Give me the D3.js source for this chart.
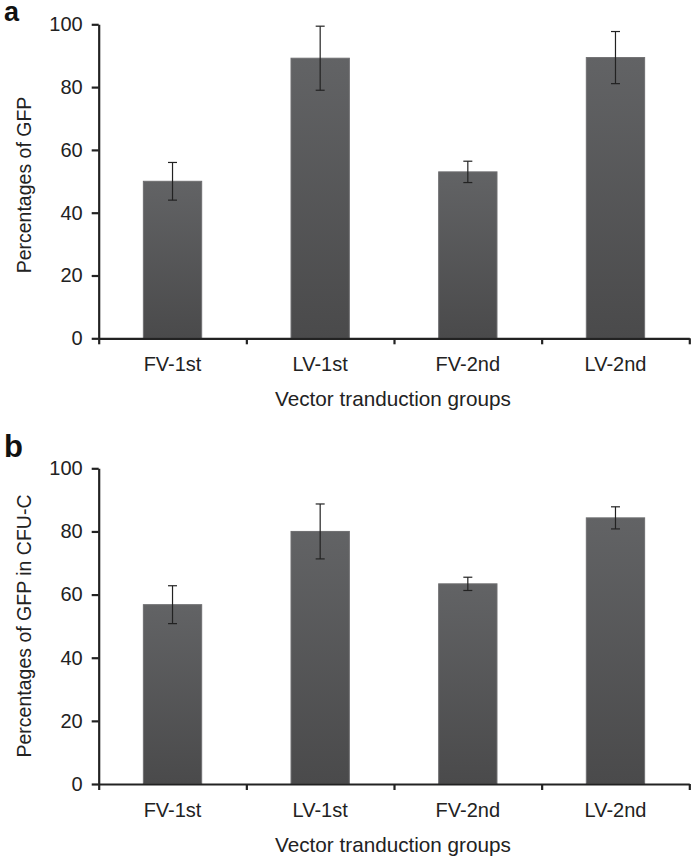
<!DOCTYPE html>
<html>
<head>
<meta charset="utf-8">
<script src="https://cdn.jsdelivr.net/npm/d3@7"></script>
<style>
  body { margin: 0; background: #fff; }
  svg { display: block; font-family: "Liberation Sans", Arial, Helvetica, sans-serif; }
</style>
</head>
<body>
<svg id="chart" width="700" height="863"></svg>
<script>
// groups and values
const groups = ["FV-1st", "LV-1st", "FV-2nd", "LV-2nd"];
const gfpMean = [50, 89.2, 53, 89.4];
const gfpErr = [6, 10.2, 3.4, 8.3];
const cfuMean = [56.8, 80, 63.4, 84.3];
const cfuErr = [6, 8.7, 2.1, 3.5];
const yTicks = [0, 20, 40, 60, 80, 100];

const svg = d3.select("#chart");

const defs = svg.append("defs");
const grad = defs.append("linearGradient")
    .attr("id", "barFill")
    .attr("x1", 0).attr("y1", 0).attr("x2", 0).attr("y2", 1);
grad.append("stop").attr("offset", "0%").attr("stop-color", "#626365");
grad.append("stop").attr("offset", "100%").attr("stop-color", "#4a4a4b");

const left = 98.7, right = 689.3;

function drawPanel(letter, letterSize, letterY, means, errs, yTop, yBottom, yTitle, yTitleCenter) {
    const g = svg.append("g");

    const x = d3.scaleBand()
        .domain(groups)
        .range([left, right])
        .paddingInner(0.605)
        .paddingOuter(0.3025);

    const y = d3.scaleLinear().domain([0, 100]).range([yBottom, yTop]);

    // bars
    g.append("g")
        .selectAll("rect")
        .data(groups)
        .enter()
        .append("rect")
        .attr("x", d => x(d))
        .attr("width", x.bandwidth())
        .attr("y", (d, i) => y(means[i]))
        .attr("height", (d, i) => y(0) - y(means[i]))
        .attr("fill", "url(#barFill)")
        .attr("stroke", "#6e6e70")
        .attr("stroke-width", 1);

    // error bars
    const eb = g.append("g")
        .attr("stroke", "#222")
        .attr("stroke-width", 1.2)
        .selectAll("g")
        .data(groups)
        .enter()
        .append("g");
    const cx = d => x(d) + x.bandwidth() / 2;
    eb.append("line")
        .attr("x1", cx).attr("x2", cx)
        .attr("y1", (d, i) => y(means[i] + errs[i]))
        .attr("y2", (d, i) => y(means[i] - errs[i]));
    eb.append("line")
        .attr("x1", d => cx(d) - 4.5).attr("x2", d => cx(d) + 4.5)
        .attr("y1", (d, i) => y(means[i] + errs[i]))
        .attr("y2", (d, i) => y(means[i] + errs[i]));
    eb.append("line")
        .attr("x1", d => cx(d) - 4.5).attr("x2", d => cx(d) + 4.5)
        .attr("y1", (d, i) => y(means[i] - errs[i]))
        .attr("y2", (d, i) => y(means[i] - errs[i]));

    // y axis
    const yAxis = g.append("g")
        .attr("transform", `translate(${left},0)`)
        .call(d3.axisLeft(y).tickValues(yTicks).tickSizeInner(7).tickSizeOuter(0).tickPadding(9));

    // x axis: boundary ticks
    const xEdge = d3.scaleLinear().domain([0, groups.length]).range([left, right]);
    const xAxis = g.append("g")
        .attr("transform", `translate(0,${yBottom})`)
        .call(d3.axisBottom(xEdge).tickValues(d3.range(groups.length + 1))
            .tickFormat("").tickSizeInner(6).tickSizeOuter(0));

    // x axis: category labels
    const xLab = g.append("g")
        .attr("transform", `translate(0,${yBottom})`)
        .call(d3.axisBottom(x).tickSize(0).tickPadding(19));
    xLab.select(".domain").remove();

    [yAxis, xAxis, xLab].forEach(a => {
        a.selectAll(".domain").attr("stroke", "#222").attr("stroke-width", 2.2);
        a.selectAll(".tick line").attr("stroke", "#222").attr("stroke-width", 2.2);
        a.selectAll("text").attr("fill", "#222").attr("font-size", "20px")
            .attr("font-family", "'Liberation Sans', Arial, sans-serif");
    });

    // axis titles
    g.append("text")
        .attr("x", (left + right) / 2 - 1)
        .attr("y", yBottom + 68)
        .attr("text-anchor", "middle")
        .attr("font-size", "20.7px")
        .attr("fill", "#222")
        .text("Vector tranduction groups");

    g.append("text")
        .attr("transform", `translate(31,${yTitleCenter}) rotate(-90)`)
        .attr("text-anchor", "middle")
        .attr("font-size", "19.5px")
        .attr("fill", "#222")
        .text(yTitle);

    // panel letter
    g.append("text")
        .attr("x", 4)
        .attr("y", letterY)
        .attr("font-size", letterSize)
        .attr("font-weight", "bold")
        .attr("fill", "#111")
        .text(letter);
}

drawPanel("a", "27px", 21, gfpMean, gfpErr, 24.3, 338.3, "Percentages of GFP", 185);
drawPanel("b", "31px", 457, cfuMean, cfuErr, 468.3, 784, "Percentages of GFP in CFU-C", 626);
</script>
</body>
</html>
